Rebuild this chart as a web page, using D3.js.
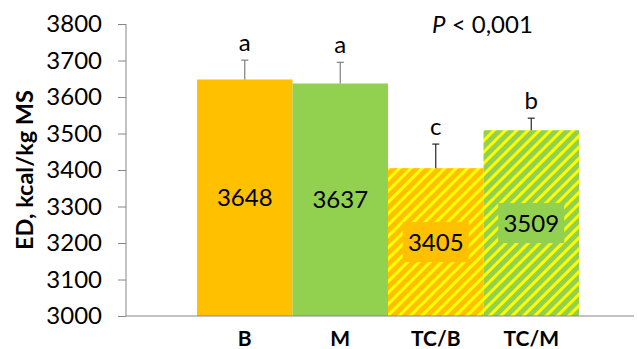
<!DOCTYPE html>
<html>
<head>
<meta charset="utf-8">
<script src="https://cdn.jsdelivr.net/npm/d3@7"></script>
<style>
  body { margin: 0; background: #fff; }
  svg { display: block; font-family: Lato, "Open Sans", sans-serif; }
</style>
</head>
<body>
<div id="chart"></div>
<script>
const categories = ["B", "M", "TC/B", "TC/M"];
const values = [3648, 3637, 3405, 3509];
const errors = [53, 58, 66, 33];
const letters = ["a", "a", "c", "b"];
const yTicks = [3000, 3100, 3200, 3300, 3400, 3500, 3600, 3700, 3800];

const W = 637, H = 349;
const mLeft = 126, mRight = 634, mTop = 24, mBottom = 316;

const rows = categories.map((c, i) => ({
  cat: c, value: values[i], err: errors[i], letter: letters[i], i: i
}));

const svg = d3.select("#chart").append("svg")
  .attr("width", W).attr("height", H);

// stripe patterns (wide upward diagonal)
const defs = svg.append("defs");
function stripes(id, base) {
  const p = defs.append("pattern")
    .attr("id", id)
    .attr("patternUnits", "userSpaceOnUse")
    .attr("width", 8).attr("height", 8)
    .attr("patternTransform", "rotate(45)");
  p.append("rect").attr("width", 8).attr("height", 8).attr("fill", base);
  p.append("rect").attr("width", 3).attr("height", 8).attr("fill", "#FFFF00");
}
stripes("stripeO", "#FFC000");
stripes("stripeG", "#92D050");

const fills = ["#FFC000", "#92D050", "url(#stripeO)", "url(#stripeG)"];
const labelBg = [null, null, "#FFC000", "#92D050"];

const y = d3.scaleLinear().domain([3000, 3800]).range([mBottom, mTop]);
const x = d3.scaleBand().domain(categories).range([197, 579]).padding(0);
const cx = d => x(d.cat) + x.bandwidth() / 2;

// bars
svg.selectAll(".bar")
  .data(rows)
  .join("rect")
  .attr("class", "bar")
  .attr("x", d => x(d.cat))
  .attr("y", d => y(d.value))
  .attr("width", x.bandwidth())
  .attr("height", d => mBottom - y(d.value))
  .attr("fill", d => fills[d.i]);

// error bars
const eb = svg.selectAll(".err")
  .data(rows)
  .join("g")
  .attr("class", "err")
  .attr("stroke", d => d.i < 2 ? "#7f7f7f" : "#262626")
  .attr("stroke-width", 1.2);
eb.append("line")
  .attr("x1", cx).attr("x2", cx)
  .attr("y1", d => y(d.value))
  .attr("y2", d => y(d.value + d.err));
eb.append("line")
  .attr("x1", d => cx(d) - 3.5)
  .attr("x2", d => cx(d) + 3.5)
  .attr("y1", d => y(d.value + d.err))
  .attr("y2", d => y(d.value + d.err));

// significance letters
svg.selectAll(".letter")
  .data(rows)
  .join("text")
  .attr("class", "letter")
  .attr("x", cx)
  .attr("y", d => y(d.value + d.err) - 9)
  .attr("text-anchor", "middle")
  .attr("font-size", "24px")
  .attr("fill", "#000")
  .text(d => d.letter);

// value labels
const vl = svg.selectAll(".val")
  .data(rows)
  .join("g")
  .attr("class", "val")
  .attr("transform", d => `translate(${cx(d)},${(y(d.value) + mBottom) / 2})`);
vl.filter(d => labelBg[d.i])
  .append("rect")
  .attr("x", -33).attr("y", -20)
  .attr("width", 66).attr("height", 40)
  .attr("fill", d => labelBg[d.i]);
vl.append("text")
  .attr("text-anchor", "middle")
  .attr("dy", "0.36em")
  .attr("font-size", "24px")
  .attr("fill", "#000")
  .text(d => d.value);

// y axis
const yAxis = svg.append("g")
  .attr("transform", `translate(${mLeft},0)`)
  .call(d3.axisLeft(y).tickValues(yTicks).tickSize(8).tickPadding(16).tickFormat(d3.format("d")));
yAxis.select(".domain").attr("stroke", "#868686").attr("d", `M0,${mTop}V${mBottom}`);
yAxis.selectAll(".tick line").attr("stroke", "#868686").attr("x1", 0).attr("x2", -8);
yAxis.selectAll(".tick text").attr("font-size", "24px").attr("fill", "#000")
  .attr("font-family", "Lato, sans-serif").attr("x", -24);

// x baseline
svg.append("line")
  .attr("x1", mLeft).attr("x2", mRight)
  .attr("y1", mBottom).attr("y2", mBottom)
  .attr("stroke", "#868686").attr("stroke-width", 1.2);

// x labels
svg.selectAll(".xl")
  .data(categories)
  .join("text")
  .attr("class", "xl")
  .attr("x", d => x(d) + x.bandwidth() / 2)
  .attr("y", 346)
  .attr("text-anchor", "middle")
  .attr("font-size", "21px")
  .attr("font-weight", "bold")
  .text(d => d);

// y title
svg.append("text")
  .attr("transform", "translate(33,170) rotate(-90)")
  .attr("text-anchor", "middle")
  .attr("font-size", "23.5px")
  .attr("font-weight", "bold")
  .text("ED, kcal/kg MS");

// P value
const pt = svg.append("text")
  .attr("x", 432).attr("y", 33)
  .attr("font-size", "24px");
pt.append("tspan").attr("font-style", "italic").text("P");
pt.append("tspan").text(" < 0,001");
</script>
</body>
</html>
